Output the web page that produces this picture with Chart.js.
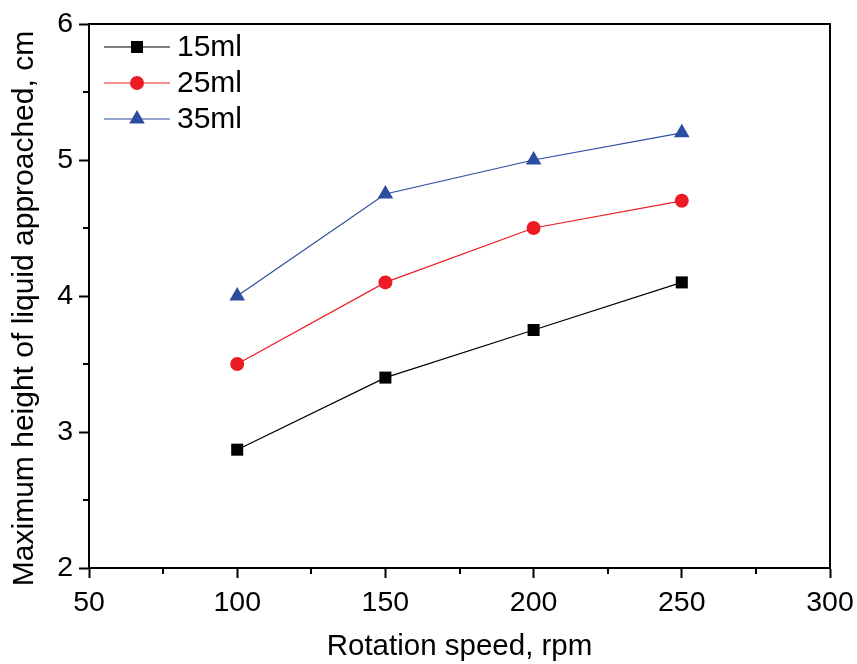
<!DOCTYPE html>
<html>
<head>
<meta charset="utf-8">
<script src="https://cdn.jsdelivr.net/npm/chart.js@4.4.1/dist/chart.umd.min.js"></script>
<style>
html,body{margin:0;padding:0;background:#fff;}
#wrap{width:857px;height:664px;position:relative;}
</style>
</head>
<body>
<div id="wrap"><canvas id="c" width="857" height="664"></canvas></div>
<script>
const speeds = [100, 150, 200, 250];
const h15 = [2.87, 3.40, 3.75, 4.10];
const h25 = [3.50, 4.10, 4.50, 4.70];
const h35 = [4.00, 4.75, 5.00, 5.20];
const seriesNames = ['15ml', '25ml', '35ml'];
const xTicks = [50, 100, 150, 200, 250, 300];
const yTicks = [2, 3, 4, 5, 6];
const xMinor = [75, 125, 175, 225, 275];
const yMinor = [2.5, 3.5, 4.5, 5.5];

const FONT = "'Liberation Sans', Arial, sans-serif";
const colors = ['#000000', '#ED1C24', '#2D4DA0'];
const styles = ['rect', 'circle', 'triangle'];
const radii = [8.5, 7, 9];
const values = [h15, h25, h35];

const datasets = values.map((v, i) => ({
  label: seriesNames[i],
  data: speeds.map((s, j) => ({x: s, y: v[j]})),
  showLine: true,
  borderColor: colors[i],
  backgroundColor: colors[i],
  borderWidth: 1.2,
  pointStyle: styles[i],
  pointRadius: radii[i],
  pointHoverRadius: radii[i],
  pointBorderWidth: 0,
  pointBackgroundColor: colors[i],
  pointBorderColor: colors[i]
}));

const framePlugin = {
  id: 'frame',
  afterDraw(chart) {
    const ctx = chart.ctx;
    const a = chart.chartArea;
    const xs = chart.scales.x, ys = chart.scales.y;
    ctx.save();
    ctx.strokeStyle = '#000';
    ctx.lineWidth = 2;
    ctx.strokeRect(a.left, a.top, a.right - a.left, a.bottom - a.top);
    // minor ticks
    ctx.beginPath();
    xMinor.forEach(v => {
      const px = Math.round(xs.getPixelForValue(v));
      ctx.moveTo(px, a.bottom);
      ctx.lineTo(px, a.bottom + 6);
    });
    yMinor.forEach(v => {
      const py = Math.round(ys.getPixelForValue(v));
      ctx.moveTo(a.left, py);
      ctx.lineTo(a.left - 6, py);
    });
    ctx.stroke();
    // legend
    const rows = [47, 83, 119];
    chart.data.datasets.forEach((ds, i) => {
      const y = rows[i];
      ctx.strokeStyle = ds.borderColor;
      ctx.lineWidth = 1.2;
      ctx.beginPath();
      ctx.moveTo(104, y);
      ctx.lineTo(170, y);
      ctx.stroke();
      ctx.save();
      ctx.fillStyle = ds.backgroundColor;
      ctx.strokeStyle = ds.borderColor;
      Chart.helpers.drawPoint(ctx, {pointStyle: ds.pointStyle, radius: ds.pointRadius, borderWidth: 0, rotation: 0}, 137, y);
      ctx.restore();
      ctx.fillStyle = '#000';
      ctx.font = '30px ' + FONT;
      ctx.textBaseline = 'middle';
      ctx.textAlign = 'left';
      ctx.fillText(ds.label, 177, y + 1);
    });
    ctx.restore();
  }
};

new Chart(document.getElementById('c'), {
  type: 'scatter',
  data: {datasets},
  plugins: [framePlugin],
  options: {
    responsive: false,
    animation: false,
    devicePixelRatio: 1,
    layout: {padding: {top: 24, right: 27, left: 0, bottom: 0}},
    plugins: {legend: {display: false}, tooltip: {enabled: false}},
    scales: {
      x: {
        type: 'linear',
        min: 50, max: 300,
        afterFit(s) { s.height = 96; s.paddingLeft = 0; s.paddingRight = 0; },
        afterBuildTicks(s) { s.ticks = xTicks.map(v => ({value: v})); },
        grid: {display: true, drawOnChartArea: false, drawTicks: true, tickLength: 10, tickWidth: 2, tickColor: '#000'},
        border: {display: true, color: '#000', width: 2},
        ticks: {color: '#000', font: {family: FONT, size: 28.5}, padding: 8, maxRotation: 0},
        title: {display: true, text: 'Rotation speed, rpm', color: '#000', font: {family: FONT, size: 29.5}, padding: {top: 0, bottom: -1}}
      },
      y: {
        type: 'linear',
        min: 2, max: 6,
        afterFit(s) { s.width = 89; s.paddingTop = 0; s.paddingBottom = 0; },
        afterBuildTicks(s) { s.ticks = yTicks.map(v => ({value: v})); },
        grid: {display: true, drawOnChartArea: false, drawTicks: true, tickLength: 10, tickWidth: 2, tickColor: '#000'},
        border: {display: true, color: '#000', width: 2},
        ticks: {color: '#000', font: {family: FONT, size: 28.5}, padding: 6},
        title: {display: true, text: 'Maximum height of liquid approached, cm   ', color: '#000', font: {family: FONT, size: 30}, padding: {top: 7, bottom: 0}}
      }
    }
  }
});
</script>
</body>
</html>
